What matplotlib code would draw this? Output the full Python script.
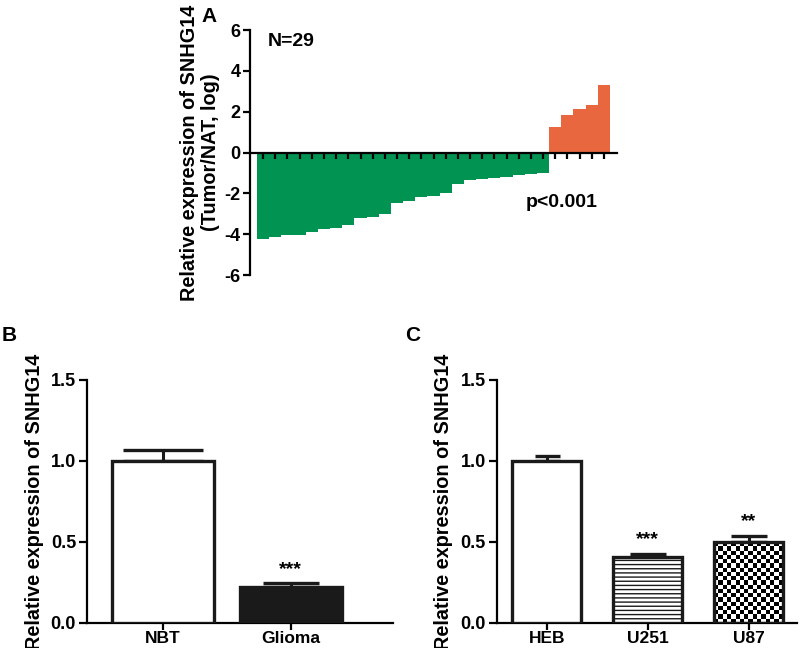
import numpy as np
import matplotlib
matplotlib.use('Agg')
import matplotlib.pyplot as plt

plt.rcParams['font.family'] = ['Liberation Sans', 'DejaVu Sans']
plt.rcParams['font.weight'] = 'bold'
plt.rcParams['axes.unicode_minus'] = False

# panel A: per-sample log ratio, sorted
tumorNatLog = [-4.26, -4.13, -4.05, -4.02, -3.89, -3.73, -3.68, -3.56, -3.19, -3.15,
               -2.99, -2.47, -2.37, -2.17, -2.14, -1.98, -1.52, -1.36, -1.32, -1.27,
               -1.19, -1.11, -1.03, -1.00, 1.26, 1.83, 2.11, 2.35, 3.30]
aTicks = [-6, -4, -2, 0, 2, 4, 6]

# panel B
bCats = ['NBT', 'Glioma']
bVals = [1.0, 0.22]
bErr = [0.07, 0.025]
bSig = ['', '***']

# panel C
cCats = ['HEB', 'U251', 'U87']
cVals = [1.0, 0.41, 0.50]
cErr = [0.03, 0.015, 0.04]
cSig = ['', '***', '**']

barTicks = [0.0, 0.5, 1.0, 1.5]

GREEN = '#009352'
ORANGE = '#E9673F'
LW = 1.6
TICK_FS = 13
LABEL_FS = 14.3

fig = plt.figure(figsize=(8, 6.48), dpi=100)

# ---- panel A
axA = fig.add_axes([0.3125, 0.5756, 0.4588, 0.3781])
x = np.arange(len(tumorNatLog))
colors = [GREEN if v < 0 else ORANGE for v in tumorNatLog]
axA.bar(x, tumorNatLog, width=1.0, color=colors, edgecolor='none', zorder=1)
axA.set_xlim(-1.08, len(tumorNatLog) - 0.5 + 0.58)
axA.set_ylim(-6, 6)
axA.set_yticks(aTicks)
axA.set_xticks(x)
axA.set_xticklabels([])
axA.spines['top'].set_visible(False)
axA.spines['right'].set_visible(False)
axA.spines['bottom'].set_position(('data', 0))
axA.spines['bottom'].set_zorder(3)
for s in ['left', 'bottom']:
    axA.spines[s].set_linewidth(LW)
axA.tick_params(axis='y', direction='out', length=5, width=LW, labelsize=TICK_FS, pad=2)
axA.tick_params(axis='x', direction='out', length=4, width=LW)
axA.set_ylabel('Relative expression of SNHG14\n(Tumor/NAT, log)', fontsize=LABEL_FS,
               fontweight='bold', labelpad=3, linespacing=1.15)
axA.text(0.049, 0.955, 'N=29', transform=axA.transAxes, fontsize=14, fontweight='bold',
         va='center', ha='left')
axA.text(0.75, 0.294, 'p<0.001', transform=axA.transAxes, fontsize=14, fontweight='bold',
         va='center', ha='left')
fig.text(0.252, 0.975, 'A', fontsize=15, fontweight='bold', ha='left', va='center')


def style_bar_axis(ax, cats):
    ax.set_ylim(0, 1.5)
    ax.set_yticks(barTicks)
    ax.set_yticklabels(['%.1f' % t for t in barTicks])
    ax.set_xticks(range(len(cats)))
    ax.set_xticklabels(cats)
    ax.spines['top'].set_visible(False)
    ax.spines['right'].set_visible(False)
    for s in ['left', 'bottom']:
        ax.spines[s].set_linewidth(LW)
    ax.tick_params(axis='y', direction='out', length=6, width=LW, labelsize=TICK_FS, pad=2)
    ax.tick_params(axis='x', direction='out', length=5, width=LW, labelsize=12.5, pad=1)
    ax.set_ylabel('Relative expression of SNHG14', fontsize=LABEL_FS, fontweight='bold',
                  labelpad=5)


# ---- panel B
axB = fig.add_axes([0.109, 0.0386, 0.382, 0.375])
bx = np.arange(len(bCats))
axB.bar(bx, bVals, width=0.8, color=['white', '#1a1a1a'], edgecolor='#1a1a1a',
        linewidth=2.4, zorder=3)
for xi, v, e, cap in zip(bx, bVals, bErr, [28.8, 20.5]):
    axB.errorbar(xi, v, yerr=[[0], [e]], fmt='none', ecolor='#1a1a1a', elinewidth=2.2,
                 capsize=cap, capthick=2.4, zorder=2)
for xi, v, e, s in zip(bx, bVals, bErr, bSig):
    if s:
        axB.text(xi, v + e + 0.035, s, ha='center', va='bottom', fontsize=14, fontweight='bold')
style_bar_axis(axB, bCats)
axB.set_xlim(-0.594, 1.8)
fig.text(0.002, 0.483, 'B', fontsize=15, fontweight='bold', ha='left', va='center')

# ---- panel C
axC = fig.add_axes([0.621, 0.0386, 0.375, 0.375])
cx = np.arange(len(cCats))
cbars = axC.bar(cx, cVals, width=0.68, color=['white', 'white', 'none'], edgecolor='#1a1a1a',
                linewidth=2.4, zorder=3)
cbars[1].set_hatch('----')
for xi, v, e, cap in zip(cx, cVals, cErr, [9.0, 13.3, 13.3]):
    axC.errorbar(xi, v, yerr=[[0], [e]], fmt='none', ecolor='#1a1a1a', elinewidth=2.2,
                 capsize=cap, capthick=2.4, zorder=2)
for xi, v, e, s in zip(cx, cVals, cErr, cSig):
    if s:
        axC.text(xi, v + e + 0.035, s, ha='center', va='bottom', fontsize=14, fontweight='bold')

# checkerboard fill for U87
p = cbars[2]
nrows, ncols = 19, 16
checker = np.indices((nrows, ncols)).sum(axis=0) % 2
im = axC.imshow(checker, cmap='gray', extent=(p.get_x(), p.get_x() + p.get_width(),
                p.get_y(), p.get_y() + p.get_height()), aspect='auto',
                interpolation='nearest', zorder=2.5)
im.set_clip_path(p)

style_bar_axis(axC, cCats)
axC.set_xlim(-0.495, 2.475)
fig.text(0.506, 0.483, 'C', fontsize=15, fontweight='bold', ha='left', va='center')

fig.savefig('out.png', dpi=100)
